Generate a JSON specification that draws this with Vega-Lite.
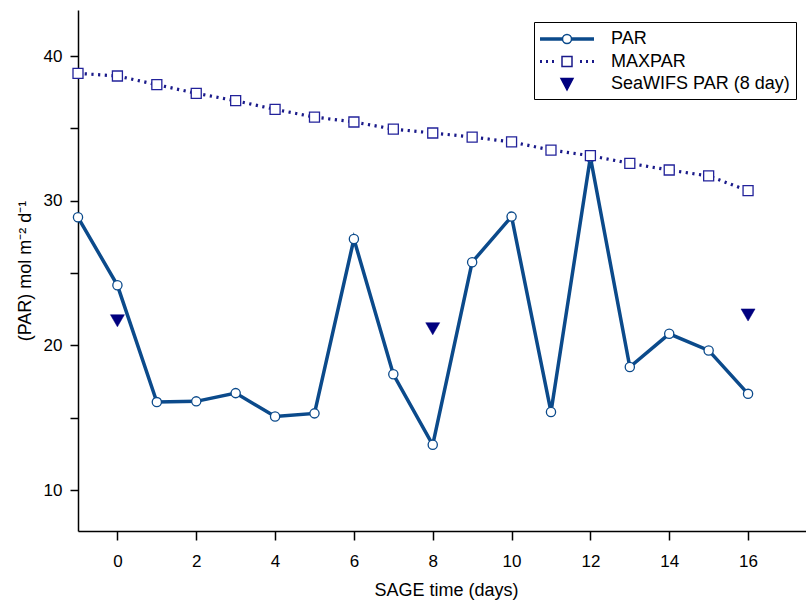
{
  "$schema": "https://vega.github.io/schema/vega-lite/v6.json",
  "width": 728,
  "height": 521,
  "autosize": {"type": "none"},
  "padding": {"left": 78, "top": 10, "right": 0, "bottom": 72},
  "background": "white",
  "config": {
    "view": {"stroke": null},
    "font": "Liberation Sans",
    "axis": {
      "grid": false,
      "domainColor": "black",
      "domainWidth": 1.5,
      "tickColor": "black",
      "tickWidth": 1.5,
      "labelColor": "black",
      "labelFont": "Liberation Sans",
      "labelFontSize": 17,
      "titleColor": "black",
      "titleFont": "Liberation Sans",
      "titleFontSize": 18,
      "titleFontWeight": "normal"
    }
  },
  "datasets": {
    "par": [
      {"day": -1, "value": 28.85},
      {"day": 0, "value": 24.15},
      {"day": 1, "value": 16.08},
      {"day": 2, "value": 16.13},
      {"day": 3, "value": 16.7},
      {"day": 4, "value": 15.08},
      {"day": 5, "value": 15.3},
      {"day": 6, "value": 27.35},
      {"day": 7, "value": 18.0},
      {"day": 8, "value": 13.13},
      {"day": 9, "value": 25.75},
      {"day": 10, "value": 28.9},
      {"day": 11, "value": 15.4},
      {"day": 12, "value": 33.0},
      {"day": 13, "value": 18.5},
      {"day": 14, "value": 20.8},
      {"day": 15, "value": 19.65},
      {"day": 16, "value": 16.65}
    ],
    "maxpar": [
      {"day": -1, "value": 38.8},
      {"day": 0, "value": 38.62},
      {"day": 1, "value": 38.02},
      {"day": 2, "value": 37.42},
      {"day": 3, "value": 36.91},
      {"day": 4, "value": 36.31},
      {"day": 5, "value": 35.78},
      {"day": 6, "value": 35.44},
      {"day": 7, "value": 34.95},
      {"day": 8, "value": 34.68},
      {"day": 9, "value": 34.4},
      {"day": 10, "value": 34.06},
      {"day": 11, "value": 33.5},
      {"day": 12, "value": 33.11},
      {"day": 13, "value": 32.58},
      {"day": 14, "value": 32.12},
      {"day": 15, "value": 31.71},
      {"day": 16, "value": 30.69}
    ],
    "seawifs": [
      {"day": 0, "value": 21.7},
      {"day": 8, "value": 21.15},
      {"day": 16, "value": 22.1}
    ]
  },
  "encoding": {
    "x": {
      "field": "day",
      "type": "quantitative",
      "scale": {"domain": [-1, 17.47], "nice": false, "zero": false},
      "axis": {
        "values": [0, 2, 4, 6, 8, 10, 12, 14, 16],
        "tickSize": 9,
        "labelPadding": 13,
        "title": "SAGE time (days)",
        "titlePadding": 12,
        "titleX": 368
      }
    },
    "y": {
      "field": "value",
      "type": "quantitative",
      "scale": {"domain": [7.17, 43.18], "nice": false, "zero": false},
      "axis": {
        "values": [10, 15, 20, 25, 30, 35, 40],
        "labelExpr": "datum.value % 10 == 0 ? datum.label : ''",
        "tickSize": 8,
        "labelPadding": 8,
        "title": "(PAR) mol m⁻² d⁻¹",
        "titlePadding": 9
      }
    }
  },
  "layer": [
    {
      "data": {"name": "par"},
      "mark": {"type": "line", "color": "#0b4a8b", "strokeWidth": 3.5}
    },
    {
      "data": {"name": "par"},
      "mark": {"type": "point", "shape": "circle", "filled": true, "fill": "white", "stroke": "#0b4a8b", "strokeWidth": 1.3, "size": 85, "opacity": 1}
    },
    {
      "data": {"name": "maxpar"},
      "mark": {"type": "line", "color": "#1a1a8a", "strokeWidth": 3.2, "strokeDash": [2.2, 4.5]}
    },
    {
      "data": {"name": "maxpar"},
      "mark": {"type": "point", "shape": "square", "filled": true, "fill": "white", "stroke": "#22229a", "strokeWidth": 1.3, "size": 100, "opacity": 1}
    },
    {
      "data": {"name": "seawifs"},
      "mark": {"type": "point", "shape": "triangle-down", "filled": true, "fill": "#00007f", "stroke": "#00007f", "strokeWidth": 0.5, "size": 196, "opacity": 1}
    },
    {
      "mark": {"type": "rule", "color": "black", "strokeWidth": 1.5},
      "encoding": {"x": null, "y": {"datum": 43.18, "type": "quantitative"}}
    },
    {
      "data": {"values": []},
      "mark": {"type": "point", "filled": true, "opacity": 1},
      "encoding": {
        "x": null,
        "y": null,
        "shape": {
          "field": "series",
          "type": "nominal",
          "scale": {
            "domain": ["PAR", "MAXPAR", "SeaWIFS PAR (8 day)"],
            "range": [
              "M-2.7,-0.1H-0.45M-2.7,0H-0.45M-2.7,0.1H-0.45M0.45,-0.1H2.7M0.45,0H2.7M0.45,0.1H2.7M0.45,0A0.45,0.45,0,1,1,-0.45,0A0.45,0.45,0,1,1,0.45,0Z",
              "M-2.7,-0.07H-2.5M-2.7,0.07H-2.5M-2.1,-0.07H-1.9M-2.1,0.07H-1.9M-1.5,-0.07H-1.3M-1.5,0.07H-1.3M1.3,-0.07H1.5M1.3,0.07H1.5M1.9,-0.07H2.1M1.9,0.07H2.1M2.5,-0.07H2.7M2.5,0.07H2.7M-0.5,-0.5H0.5V0.5H-0.5Z",
              "M-0.6,-0.55H0.6L0,0.6Z"
            ]
          },
          "legend": {
            "title": null, "orient": "none", "legendX": 456, "legendY": 12,
            "symbolSize": 400, "symbolStrokeWidth": 1.5, "symbolOffset": 16, "labelOffset": 33,
            "labelFontSize": 18, "labelColor": "black", "labelFont": "Liberation Sans", "labelLimit": 400,
            "labelExpr": "datum.label + '\u00a0\u00a0\u00a0\u00a0'",
            "padding": 6, "strokeColor": "black", "fillColor": "white", "rowPadding": 2.5, "cornerRadius": 0
          }
        },
        "fill": {
          "field": "series",
          "type": "nominal",
          "scale": {"domain": ["PAR", "MAXPAR", "SeaWIFS PAR (8 day)"], "range": ["white", "white", "#00007f"]},
          "legend": {
            "title": null, "orient": "none", "legendX": 456, "legendY": 12,
            "symbolSize": 400, "symbolStrokeWidth": 1.5, "symbolOffset": 16, "labelOffset": 33,
            "labelFontSize": 18, "labelColor": "black", "labelFont": "Liberation Sans", "labelLimit": 400,
            "labelExpr": "datum.label + '\u00a0\u00a0\u00a0\u00a0'",
            "padding": 6, "strokeColor": "black", "fillColor": "white", "rowPadding": 2.5, "cornerRadius": 0
          }
        },
        "stroke": {
          "field": "series",
          "type": "nominal",
          "scale": {"domain": ["PAR", "MAXPAR", "SeaWIFS PAR (8 day)"], "range": ["#0b4a8b", "#1a1a8a", "#00007f"]},
          "legend": {
            "title": null, "orient": "none", "legendX": 456, "legendY": 12,
            "symbolSize": 400, "symbolStrokeWidth": 1.5, "symbolOffset": 16, "labelOffset": 33,
            "labelFontSize": 18, "labelColor": "black", "labelFont": "Liberation Sans", "labelLimit": 400,
            "labelExpr": "datum.label + '\u00a0\u00a0\u00a0\u00a0'",
            "padding": 6, "strokeColor": "black", "fillColor": "white", "rowPadding": 2.5, "cornerRadius": 0
          }
        }
      }
    }
  ]
}
